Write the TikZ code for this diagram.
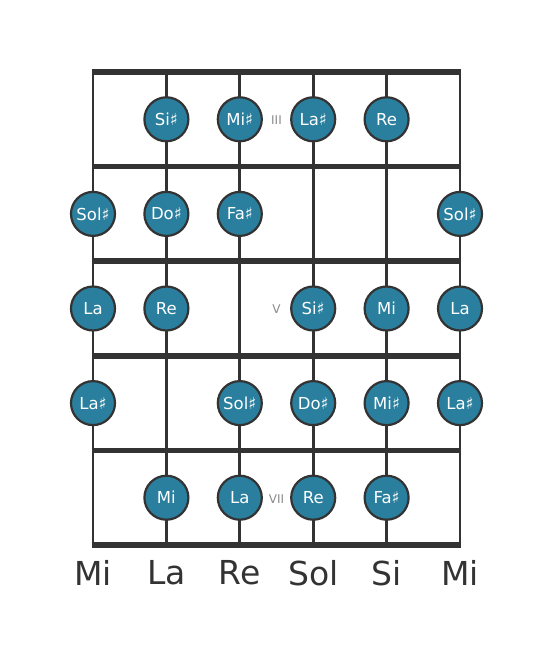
\documentclass[tikz,border=0pt]{standalone}
\usepackage{fontspec}
\setmainfont{DejaVu Sans}
\definecolor{notefill}{HTML}{2A7F9E}
\definecolor{linecol}{HTML}{333333}
\definecolor{markcol}{HTML}{8A8A8A}
\begin{document}
\begin{tikzpicture}[x=1pt,y=-1pt,
  note/.style={circle,draw=linecol,line width=2.2pt,fill=notefill,minimum size=44pt,inner sep=0pt,text=white,font=\fontsize{16.5}{16.5}\selectfont},
  fretline/.style={line width=5.5pt,draw=linecol},
  stringline/.style={line width=2.8pt,draw=linecol},
  marker/.style={text=markcol,font=\fontsize{12}{12}\selectfont},
  openname/.style={text=linecol,font=\fontsize{33}{33}\selectfont}]
\useasboundingbox (0,0) rectangle (553,656);
% string coordinates
\foreach \i/\x in {1/93,2/166.4,3/239.8,4/313.2,5/386.6,6/460}{
  \coordinate (st\i) at (\x,72);
  \coordinate (sb\i) at (\x,545);
}
\foreach \i in {1,...,6}{\draw[stringline] (st\i) -- (sb\i);}
\foreach \j/\y in {0/72,1/166.6,2/261.2,3/355.8,4/450.4,5/545}{
  \coordinate (fl\j) at (91.6,\y);
  \coordinate (fr\j) at (461.4,\y);
  \draw[fretline] (fl\j) -- (fr\j);
}
% row 1
\node[note] (n12) at (166.4,119.3) {Si♯};
\node[note] (n13) at (239.8,119.3) {Mi♯};
\node[note] (n14) at (313.2,119.3) {La♯};
\node[note] (n15) at (386.6,119.3) {Re};
\node[marker] (m3) at (276.5,120.3) {III};
% row 2
\node[note] (n21) at (93,213.9) {Sol♯};
\node[note] (n22) at (166.4,213.9) {Do♯};
\node[note] (n23) at (239.8,213.9) {Fa♯};
\node[note] (n26) at (460,213.9) {Sol♯};
% row 3
\node[note] (n31) at (93,308.5) {La};
\node[note] (n32) at (166.4,308.5) {Re};
\node[note] (n34) at (313.2,308.5) {Si♯};
\node[note] (n35) at (386.6,308.5) {Mi};
\node[note] (n36) at (460,308.5) {La};
\node[marker] (m5) at (276.5,309.5) {V};
% row 4
\node[note] (n41) at (93,403.1) {La♯};
\node[note] (n43) at (239.8,403.1) {Sol♯};
\node[note] (n44) at (313.2,403.1) {Do♯};
\node[note] (n45) at (386.6,403.1) {Mi♯};
\node[note] (n46) at (460,403.1) {La♯};
% row 5
\node[note] (n52) at (166.4,497.7) {Mi};
\node[note] (n53) at (239.8,497.7) {La};
\node[note] (n54) at (313.2,497.7) {Re};
\node[note] (n55) at (386.6,497.7) {Fa♯};
\node[marker] (m7) at (276.5,498.7) {VII};
% open string names
\node[openname] (o1) at (93,573) {Mi};
\node[openname] (o2) at (166.4,573) {La};
\node[openname] (o3) at (239.8,573) {Re};
\node[openname] (o4) at (313.2,573) {Sol};
\node[openname] (o5) at (386.6,573) {Si};
\node[openname] (o6) at (460,573) {Mi};
\end{tikzpicture}
\end{document}
